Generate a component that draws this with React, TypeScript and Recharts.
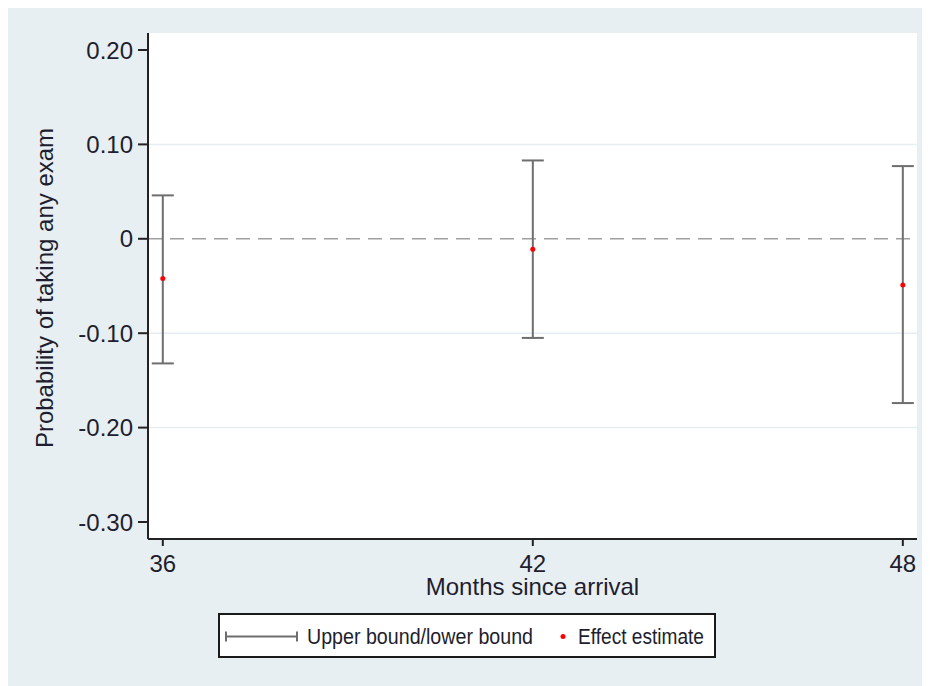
import React from 'react';
import {
  ComposedChart,
  Scatter,
  ErrorBar,
  XAxis,
  YAxis,
  CartesianGrid,
  ReferenceLine,
  Legend,
} from 'recharts';

// values
const months = [36, 42, 48];
const estimates = [-0.042, -0.011, -0.049];
const upperBounds = [0.046, 0.083, 0.077];
const lowerBounds = [-0.132, -0.105, -0.174];

const xTicks = [36, 42, 48];
const yTicks = [0.2, 0.1, 0, -0.1, -0.2, -0.3];
const gridValues = [0.1, -0.1, -0.2];

const data = months.map((m, i) => ({
  month: m,
  estimate: estimates[i],
  bounds: [estimates[i] - lowerBounds[i], upperBounds[i] - estimates[i]],
}));

const FONT = '"Liberation Sans", Arial, sans-serif';
const TEXT = '#1e1e2e';
const BAR = '#6e6e6e';

const fmtY = (v: number) => (v === 0 ? '0' : v.toFixed(2));

const RedDot = (props: any) => {
  const { cx, cy } = props;
  return <circle cx={cx} cy={cy} r={2.5} fill="#ff0000" />;
};

const LegendBox = () => (
  <div
    style={{
      boxSizing: 'border-box',
      width: 498,
      height: 45,
      background: '#fff',
      border: '2px solid #1a1a1a',
    }}
  >
    <svg width={494} height={41} style={{ display: 'block', overflow: 'visible' }}>
      <line x1={6} x2={77} y1={21.5} y2={21.5} stroke={BAR} strokeWidth={2} />
      <line x1={6} x2={6} y1={16.5} y2={26.5} stroke={BAR} strokeWidth={2} />
      <line x1={77} x2={77} y1={16.5} y2={26.5} stroke={BAR} strokeWidth={2} />
      <text
        x={87}
        y={29}
        fill={TEXT}
        fontSize={22}
        fontFamily={FONT}
        textLength={226}
        lengthAdjust="spacingAndGlyphs"
      >
        Upper bound/lower bound
      </text>
      <circle cx={343} cy={21.5} r={2.5} fill="#ff0000" />
      <text
        x={358}
        y={29}
        fill={TEXT}
        fontSize={22}
        fontFamily={FONT}
        textLength={126}
        lengthAdjust="spacingAndGlyphs"
      >
        Effect estimate
      </text>
    </svg>
  </div>
);

export default function App() {
  return (
    <div
      style={{
        position: 'relative',
        width: 923,
        height: 678,
        marginLeft: -1,
        background: '#e8eff2',
      }}
    >
      <ComposedChart
        width={923}
        height={678}
        data={data}
        margin={{ top: 25, right: 13, left: 20, bottom: 87 }}
      >
        <CartesianGrid
          fill="#ffffff"
          vertical={false}
          horizontalValues={gridValues}
          stroke="#e6eef2"
          strokeWidth={1.5}
        />
        <XAxis
          dataKey="month"
          type="number"
          domain={[35.76, 48.23]}
          ticks={xTicks}
          allowDataOverflow
          height={60}
          stroke="#222"
          strokeWidth={2}
          tickSize={7}
          tickMargin={9}
          tick={{ fill: TEXT, fontSize: 24, fontFamily: FONT }}
          label={{
            content: (p: any) => {
              const vb = p.viewBox;
              return (
                <text
                  x={vb.x + vb.width / 2}
                  y={vb.y + 56}
                  textAnchor="middle"
                  fill={TEXT}
                  fontSize={24}
                  fontFamily={FONT}
                >
                  Months since arrival
                </text>
              );
            },
          }}
        />
        <YAxis
          type="number"
          domain={[-0.318, 0.218]}
          ticks={yTicks}
          allowDataOverflow
          width={121}
          stroke="#222"
          strokeWidth={2}
          tickSize={10}
          tickMargin={5}
          tickFormatter={fmtY}
          tick={{ fill: TEXT, fontSize: 24, fontFamily: FONT }}
          label={{
            content: (p: any) => {
              const vb = p.viewBox;
              const x = vb.x + 26;
              const y = vb.y + vb.height / 2 + 2;
              return (
                <text
                  x={x}
                  y={y}
                  transform={`rotate(-90, ${x}, ${y})`}
                  textAnchor="middle"
                  fill={TEXT}
                  fontSize={24}
                  fontFamily={FONT}
                >
                  Probability of taking any exam
                </text>
              );
            },
          }}
        />
        <ReferenceLine y={0} stroke="#a0a0a0" strokeWidth={1.5} strokeDasharray="14 8" />
        <Scatter dataKey="estimate" shape={<RedDot />} isAnimationActive={false}>
          <ErrorBar
            dataKey="bounds"
            direction="y"
            width={11}
            stroke={BAR}
            strokeWidth={2}
            isAnimationActive={false}
          />
        </Scatter>
        <Legend
          layout="horizontal"
          verticalAlign="middle"
          wrapperStyle={{ left: 211, top: 605, width: 498, height: 45 }}
          content={<LegendBox />}
        />
      </ComposedChart>
    </div>
  );
}
